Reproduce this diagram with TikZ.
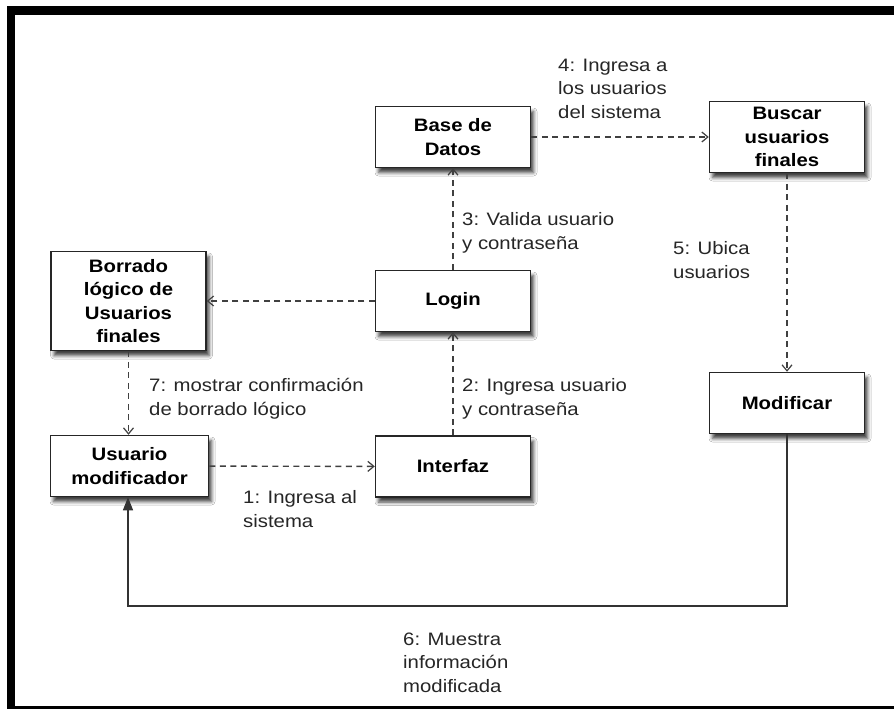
\documentclass[tikz,border=0pt]{standalone}
\usepackage{fontspec}
\setmainfont{Liberation Sans}[FakeStretch=1.13]
\usetikzlibrary{arrows.meta,shadows.blur}

\begin{document}
\begin{tikzpicture}[x=1pt,y=-1pt,
  box/.style={draw=black!85, line width=1.5pt, fill=white,
    minimum width=155pt, minimum height=61pt, inner sep=2pt, align=center,
    font=\bfseries\fontsize{18}{23.5}\selectfont,
    blur shadow={shadow xshift=3pt, shadow yshift=-5pt,
      shadow blur radius=3.5pt, shadow opacity=75}},
  msg/.style={draw=black!75, line width=1.4pt, dash pattern=on 6pt off 4.5pt,
    -{Straight Barb[length=6pt,width=10pt,line width=1.2pt]}},
  ret/.style={draw=black!80, line width=1.3pt,
    -{Triangle[length=13pt,width=10pt]}},
  lbl/.style={anchor=base west, inner sep=0pt, align=left, text=black!85,
    font=\fontsize{18}{23.5}\selectfont}]

  % canvas and frame
  \useasboundingbox (0,0) rectangle (894,709);
  \fill[white] (0,0) rectangle (894,709);
  \fill[black] (7,6) rectangle (894,15);
  \fill[black] (7,6) rectangle (15,709);
  \fill[black] (7,706) rectangle (894,709);

  % objects
  \node[box] (bd) at (453,137) {Base de\\Datos};
  \node[box] (login) at (453,301) {Login};
  \node[box, minimum height=99pt] (borrado) at (128.5,301) {Borrado\\lógico de\\Usuarios\\finales};
  \node[box, minimum height=71pt] (buscar) at (787,137) {Buscar\\usuarios\\finales};
  \node[box] (modif) at (787,403) {Modificar};
  \node[box, minimum width=158pt] (usuario) at (129.5,466) {Usuario\\modificador};
  \node[box] (interfaz) at (453,466.5) {Interfaz};

  % messages
  \draw[msg] (usuario) -- (interfaz);
  \draw[msg] (interfaz) -- (login);
  \draw[msg] (login) -- (bd);
  \draw[msg] (bd) -- (buscar);
  \draw[msg] (buscar) -- (modif);
  \draw[msg] (login) -- (borrado);
  \draw[msg] (borrado.south) -- (borrado.south |- usuario.north);

  % return path
  \coordinate (low) at (128,606);
  \draw[ret] (modif.south) |- (low) -- (low |- usuario.south);

  % message labels (anchored at the baseline of the last line)
  \node[lbl] (l1) at (243,527) {1: Ingresa al\\sistema};
  \node[lbl] (l2) at (462,415) {2: Ingresa usuario\\y contraseña};
  \node[lbl] (l3) at (462,249) {3: Valida usuario\\y contraseña};
  \node[lbl] (l4) at (558,118) {4: Ingresa a\\los usuarios\\del sistema};
  \node[lbl] (l5) at (673,278) {5: Ubica\\usuarios};
  \node[lbl] (l6) at (403,692) {6: Muestra\\información\\modificada};
  \node[lbl] (l7) at (149,415) {7: mostrar confirmación\\de borrado lógico};
\end{tikzpicture}
\end{document}
